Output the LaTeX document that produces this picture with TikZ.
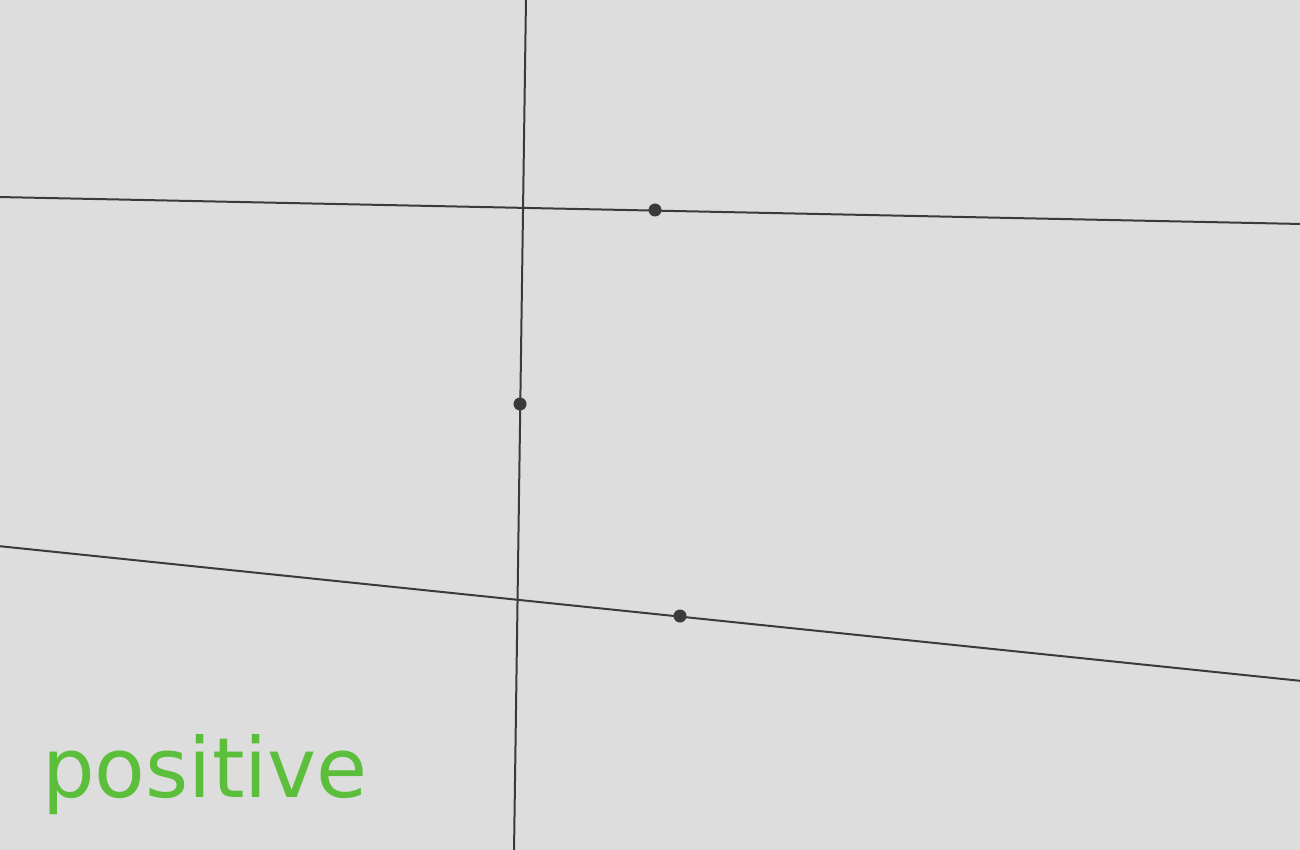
\documentclass[tikz,border=0pt]{standalone}
\usepackage{fontspec}
\setmainfont{DejaVu Sans}
\definecolor{bg}{HTML}{DDDDDD}
\definecolor{ln}{HTML}{3A3A3A}
\definecolor{gr}{HTML}{5BBF3B}
\tikzset{
  lineD/.style={draw=ln, line width=2pt},
  dotD/.style={circle, fill=ln, inner sep=0pt, minimum size=13pt},
  labelD/.style={text=gr, font=\fontsize{83}{83}\selectfont, inner sep=0pt, anchor=base west}
}
\begin{document}
\begin{tikzpicture}[x=1pt,y=-1pt]
\fill[bg] (0,0) rectangle (1300,850);
\useasboundingbox (0,0) rectangle (1300,850);
\coordinate (v1) at (526,-2);
\coordinate (v2) at (514,852);
\coordinate (t1) at (-2,197);
\coordinate (t2) at (1302,224);
\coordinate (b1) at (-2,546);
\coordinate (b2) at (1302,681);
\draw[lineD] (v1) -- (v2);
\draw[lineD] (t1) -- (t2);
\draw[lineD] (b1) -- (b2);
\node[dotD] (d1) at (655,210) {};
\node[dotD] (d2) at (520,404) {};
\node[dotD] (d3) at (680,616) {};
\node[labelD] (lbl) at (42,797) {positive};
\end{tikzpicture}
\end{document}
